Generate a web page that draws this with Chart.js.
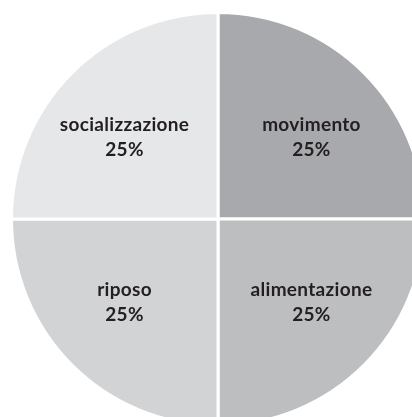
<!DOCTYPE html>
<html>
<head>
<meta charset="utf-8">
<script src="https://cdn.jsdelivr.net/npm/chart.js@4.4.1/dist/chart.umd.min.js"></script>
<style>
  html, body { margin: 0; padding: 0; background: #fff; overflow: hidden; width: 412px; height: 417px; }
  #wrap { position: absolute; left: 0; top: 1px; width: 436px; height: 436px; }
</style>
</head>
<body>
<div id="wrap"><canvas id="c" width="436" height="436"></canvas></div>
<script>
// dati (in senso orario partendo dall'alto)
let categorie = ['movimento', 'alimentazione', 'riposo', 'socializzazione'];
let valori = [25, 25, 25, 25];
let colori = ['#a7a9ac', '#bcbec0', '#d1d3d4', '#e6e7e8'];

// etichette dentro le fette: nome + percentuale
let etichette = {
    id: 'etichette',
    afterDatasetsDraw: function (chart) {
        let ctx = chart.ctx;
        let meta = chart.getDatasetMeta(0);
        let tot = valori.reduce((a, b) => a + b, 0);
        ctx.save();
        ctx.fillStyle = '#231f20';
        ctx.textAlign = 'center';
        ctx.textBaseline = 'middle';
        ctx.font = 'bold 19px Lato, "Open Sans", sans-serif';
        ctx.letterSpacing = '0.3px';
        meta.data.forEach(function (arc, i) {
            let p = arc.getProps(['x', 'y', 'startAngle', 'endAngle', 'outerRadius']);
            let a = (p.startAngle + p.endAngle) / 2;
            let x = p.x + Math.cos(a) * p.outerRadius * 0.64;
            let y = p.y + Math.sin(a) * p.outerRadius * 0.565;
            ctx.fillText(categorie[i], x, y - 12);
            ctx.fillText(Math.round(valori[i] / tot * 100) + '%', x, y + 13);
        });
        ctx.restore();
    }
};

let cns = document.getElementById('c');
new Chart(cns.getContext('2d'), {
    type: 'pie',
    data: {
        labels: categorie,
        datasets: [{
            data: valori,
            backgroundColor: colori,
            borderColor: '#ffffff',
            borderWidth: 3
        }]
    },
    options: {
        responsive: false,
        animation: false,
        layout: { padding: 10 },
        plugins: {
            legend: { display: false },
            tooltip: { enabled: false }
        }
    },
    plugins: [etichette]
});
</script>
</body>
</html>
